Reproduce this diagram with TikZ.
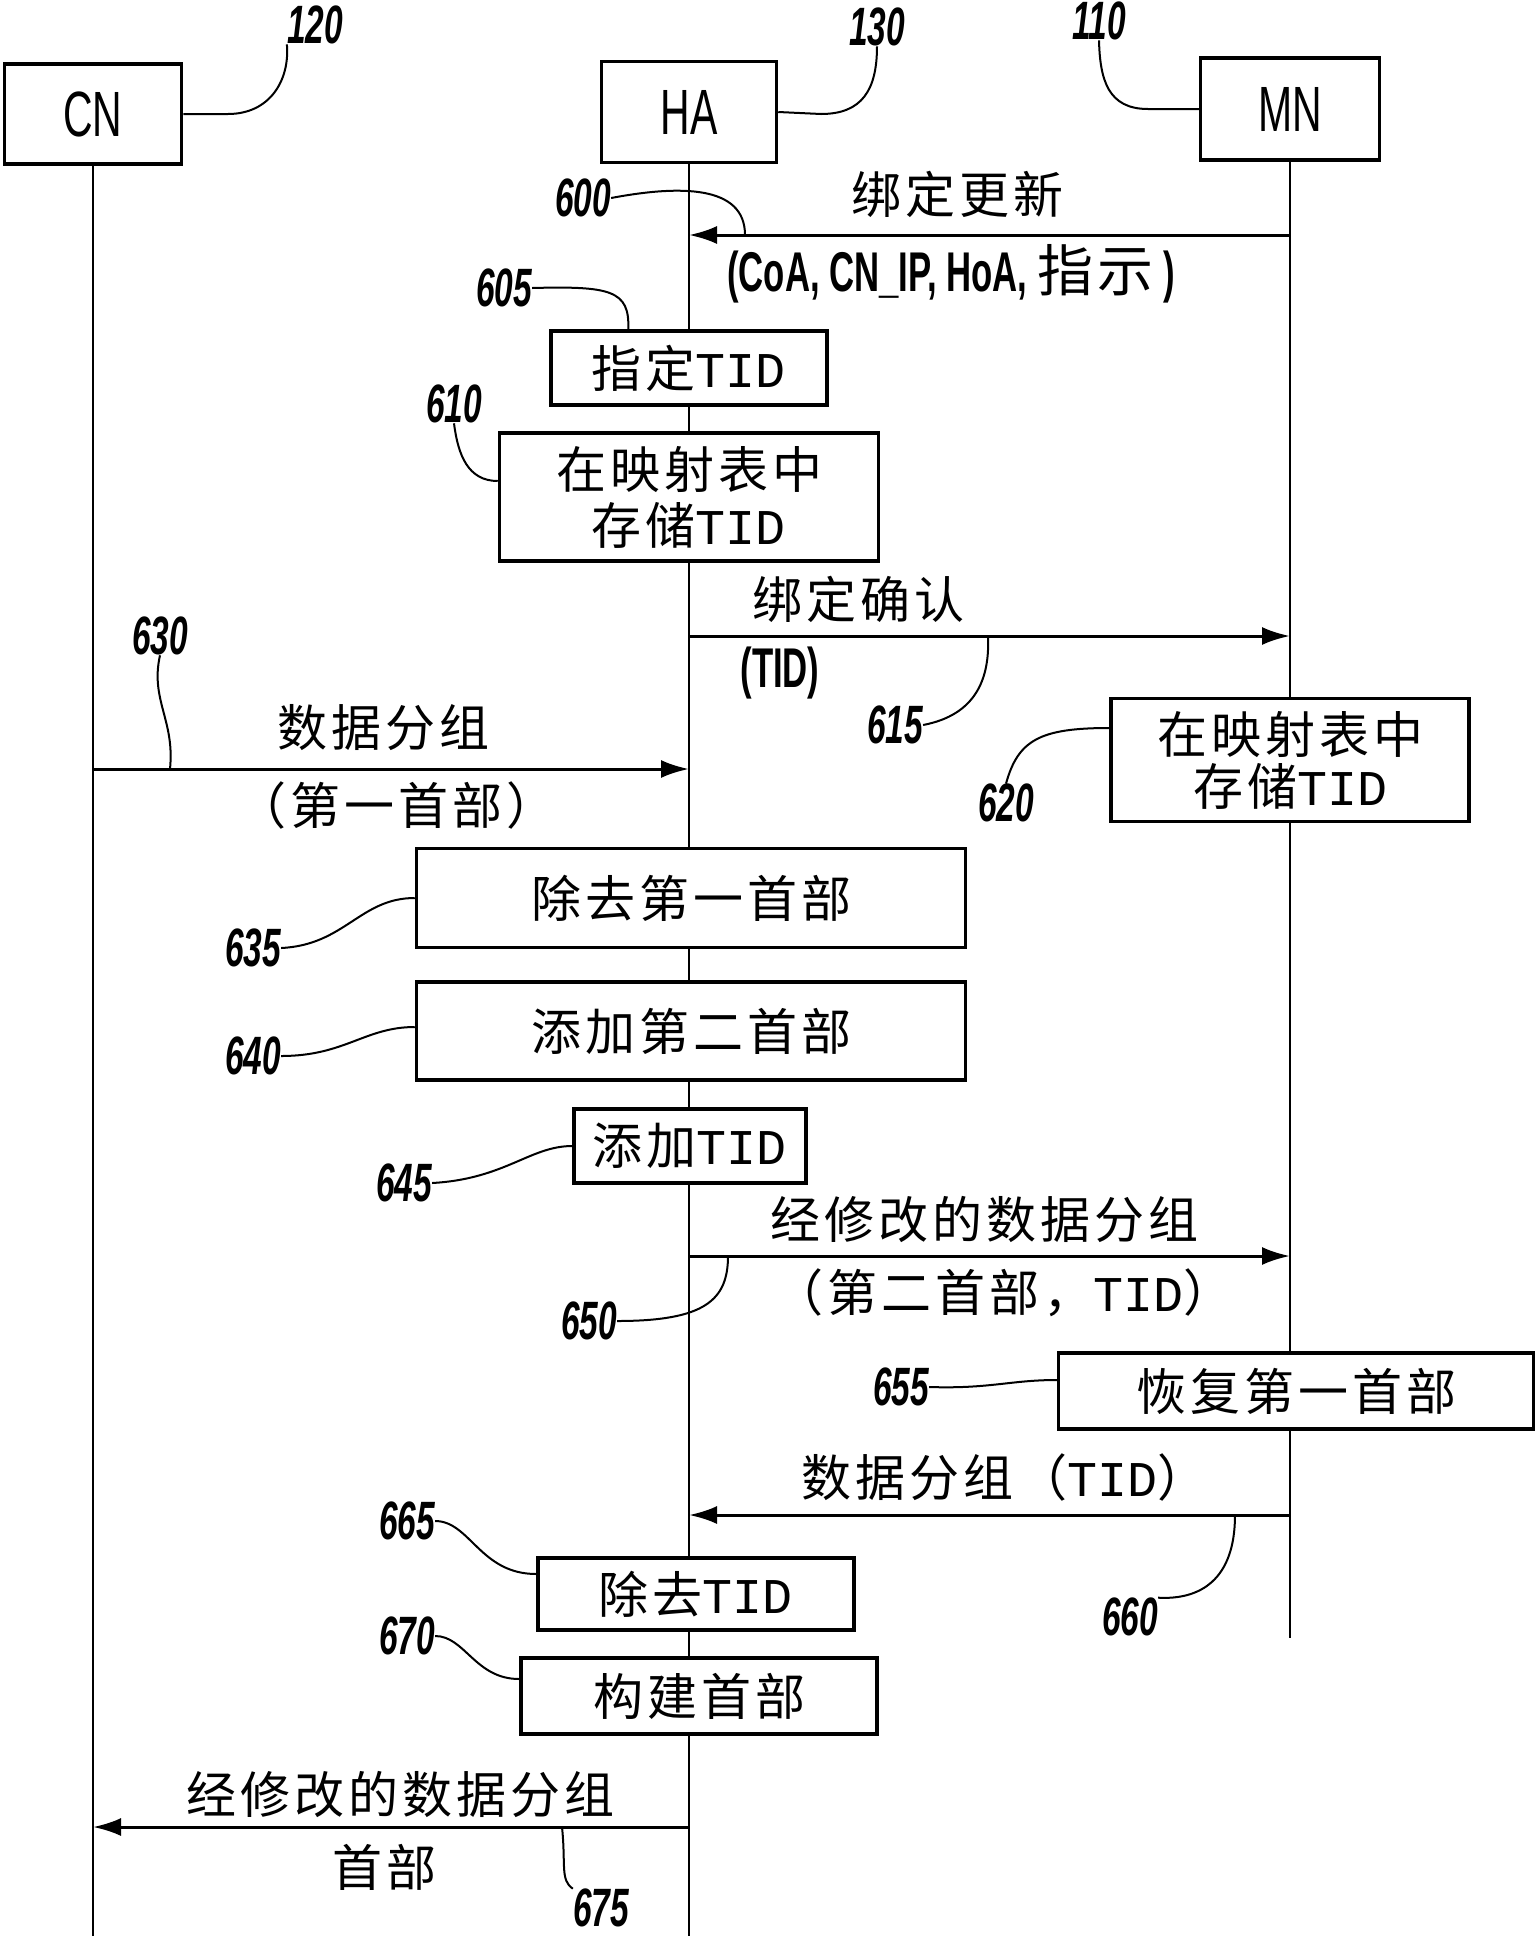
\documentclass[tikz,border=0pt]{standalone}
\usepackage{fontspec}
\newfontfamily\cjk[LetterSpace=8]{Noto Sans CJK SC}
\newfontfamily\tidf{Liberation Mono}
\newfontfamily\narrowf[FakeStretch=0.62]{Liberation Sans}
\newfontfamily\entf[FakeStretch=0.64]{Liberation Sans}
\newfontfamily\numf[FakeStretch=0.62]{Liberation Sans}
\usetikzlibrary{arrows.meta}
\tikzset{
  lifeline/.style={line width=2pt},
  entity/.style={draw, line width=3.5pt, fill=white, inner sep=0pt, font=\entf\fontsize{64}{66}\selectfont},
  procbox/.style={draw, line width=3.5pt, fill=white, inner sep=0pt, align=center, font=\cjk\fontsize{50}{58}\selectfont},
  msg/.style={line width=3pt, -{Latex[length=28pt,width=18pt]}},
  lbl/.style={inner sep=0pt, font=\cjk\fontsize{50}{58}\selectfont},
  narrowlbl/.style={inner sep=0pt, font=\narrowf\bfseries\fontsize{56}{60}\selectfont},
  refnum/.style={inner sep=0pt, font=\numf\bfseries\itshape\fontsize{54}{56}\selectfont},
  leader/.style={line width=2pt}
}
\begin{document}
\begin{tikzpicture}[x=1pt,y=-1pt]
\useasboundingbox[fill=white] (0,0) rectangle (1536,1936);

% entities
\node[entity, minimum width=177pt, minimum height=100pt] (cn) at (93,114) {CN};
\node[entity, minimum width=175pt, minimum height=101pt] (ha) at (689,112) {HA};
\node[entity, minimum width=179pt, minimum height=102pt] (mn) at (1290,109) {MN};

% lifelines
\coordinate (cnBot) at (93,1936);
\coordinate (haBot) at (689,1936);
\coordinate (mnBot) at (1290,1638);
\draw[lifeline] (cn.south) -- (cnBot);
\draw[lifeline] (ha.south) -- (haBot);
\draw[lifeline] (mn.south) -- (mnBot);

% process boxes
\node[procbox, minimum width=276pt, minimum height=74pt] (b605) at (689,368) {指定{\tidf TID}};
\node[procbox, minimum width=379pt, minimum height=128pt] (b610) at (689,497) {在映射表中\\[-2pt]存储{\tidf TID}};
\node[procbox, minimum width=358pt, minimum height=123pt, font=\cjk\fontsize{50}{52}\selectfont] (b620) at (1290,760) {在映射表中\\存储{\tidf TID}};
\node[procbox, minimum width=549pt, minimum height=99pt] (b635) at (691,898) {除去第一首部};
\node[procbox, minimum width=549pt, minimum height=98pt] (b640) at (691,1031) {添加第二首部};
\node[procbox, minimum width=232pt, minimum height=74pt] (b645) at (690,1146) {添加{\tidf TID}};
\node[procbox, minimum width=475pt, minimum height=76pt] (b655) at (1296,1391) {恢复第一首部};
\node[procbox, minimum width=316pt, minimum height=72pt] (b665) at (696,1594) {除去{\tidf TID}};
\node[procbox, minimum width=356pt, minimum height=76pt] (b670) at (699,1696) {构建首部};

% message end points
\coordinate (a600s) at (1290,235);  \coordinate (a600e) at (689,235);
\coordinate (a615s) at (689,636);   \coordinate (a615e) at (1290,636);
\coordinate (a630s) at (93,769);    \coordinate (a630e) at (689,769);
\coordinate (a650s) at (689,1256);  \coordinate (a650e) at (1290,1256);
\coordinate (a660s) at (1290,1515); \coordinate (a660e) at (689,1515);
\coordinate (a675s) at (689,1827);  \coordinate (a675e) at (93,1827);

\draw[msg] (a600s) -- (a600e);
\draw[msg] (a615s) -- (a615e);
\draw[msg] (a630s) -- (a630e);
\draw[msg] (a650s) -- (a650e);
\draw[msg] (a660s) -- (a660e);
\draw[msg] (a675s) -- (a675e);

% message labels
\node[lbl] (t600a) at (957,194) {绑定更新};
\node[narrowlbl] (t600b) at (951,274) {(CoA, CN\_IP, HoA, {\cjk\mdseries 指示} )};
\node[lbl] (t615a) at (858,599) {绑定确认};
\node[narrowlbl] (t615b) at (780,673) {(TID)};
\node[lbl] (t630a) at (383,728) {数据分组};
\node[lbl] (t630b) at (396,805) {（第一首部）};
\node[lbl] (t650a) at (984,1219) {经修改的数据分组};
\node[lbl] (t650b) at (1003,1293) {（第二首部，{\tidf TID}）};
\node[lbl] (t660a) at (1004,1477) {数据分组（{\tidf TID}）};
\node[lbl] (t675a) at (400,1794) {经修改的数据分组};
\node[lbl] (t675b) at (384,1867) {首部};

% reference numbers
\node[refnum] (r120) at (315,25) {120};
\node[refnum] (r130) at (877,27) {130};
\node[refnum] (r110) at (1099,21) {110};
\node[refnum] (r600) at (583,198) {600};
\node[refnum] (r605) at (504,288) {605};
\node[refnum] (r610) at (454,404) {610};
\node[refnum] (r615) at (895,725) {615};
\node[refnum] (r620) at (1006,803) {620};
\node[refnum] (r630) at (160,636) {630};
\node[refnum] (r635) at (253,948) {635};
\node[refnum] (r640) at (253,1056) {640};
\node[refnum] (r645) at (404,1183) {645};
\node[refnum] (r650) at (589,1321) {650};
\node[refnum] (r655) at (901,1387) {655};
\node[refnum] (r660) at (1130,1617) {660};
\node[refnum] (r665) at (407,1521) {665};
\node[refnum] (r670) at (407,1636) {670};
\node[refnum] (r675) at (601,1908) {675};

% leader points on messages
\coordinate (c600) at (745,235);
\coordinate (c615) at (988,636);
\coordinate (c630) at (170,769);
\coordinate (c650) at (728,1256);
\coordinate (c660) at (1235,1515);
\coordinate (c675) at (562,1827);

% leaders
\draw[leader] (cn.east) -- (228,114) .. controls (270,114) and (290,80) .. (r120.south west);
\draw[leader] (ha.east) -- (821,114) .. controls (862,114) and (877,90) .. (r130.south);
\draw[leader] (mn.west) -- (1148,109) .. controls (1108,109) and (1100,80) .. (r110.south);
\draw[leader] (r600.east) .. controls (680,185) and (745,185) .. (c600);
\draw[leader] (r605.east) .. controls (610,286) and (630,290) .. ([xshift=79pt]b605.north west);
\draw[leader] (r610.south) .. controls (458,455) and (468,481) .. ([yshift=16pt]b610.west);
\draw[leader] (r615.east) .. controls (975,715) and (990,680) .. (c615);
\draw[leader] (r620.north) .. controls (1018,740) and (1040,728) .. ([yshift=32pt]b620.west);
\draw[leader] (r630.south) .. controls (150,700) and (175,720) .. (c630);
\draw[leader] (r635.east) .. controls (345,945) and (360,898) .. (b635.west);
\draw[leader] (r640.east) .. controls (345,1056) and (365,1027) .. ([yshift=4pt]b640.west);
\draw[leader] (r645.east) .. controls (505,1179) and (530,1146) .. (b645.west);
\draw[leader] (r650.east) .. controls (705,1321) and (728,1300) .. (c650);
\draw[leader] (r655.east) .. controls (990,1389) and (1010,1380) .. ([yshift=11pt]b655.west);
\draw[leader] (r660.north east) .. controls (1200,1600) and (1235,1580) .. (c660);
\draw[leader] (r665.east) .. controls (470,1521) and (480,1574) .. ([yshift=20pt]b665.west);
\draw[leader] (r670.east) .. controls (465,1636) and (475,1679) .. ([yshift=17pt]b670.west);
\draw[leader] (c675) .. controls (566,1865) and (560,1880) .. (r675.north west);
\end{tikzpicture}
\end{document}
